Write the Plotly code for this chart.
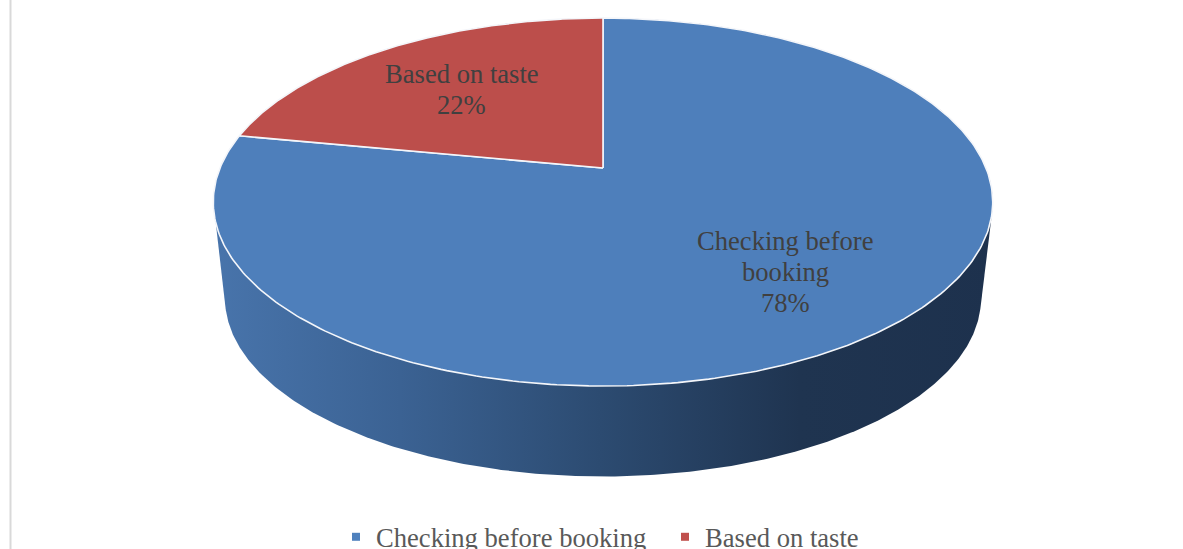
import numpy as np
import plotly.graph_objects as go

categories = ["Checking before booking", "Based on taste"]
label_lines = [["Checking before", "booking"], ["Based on taste"]]
shares = [78, 22]
colors = ["#4e7fbb", "#bc4e4b"]
legend_colors = ["#4f81bd", "#c0504d"]
label_radius = [0.674, 0.63]
label_nudge = [2, 1]

W, H = 1183, 549
CX, CY = 603, 168          # projected pie centre
AX, AY, PERSP = 383, 177.7, 0.185
BOTTOM_SCALE, BOTTOM_CY = 0.97, 265
LINE_PITCH = 31
FONT_SIZE = 26.6


def project(theta, r=1.0, s=1.0, cy=CY):
    # theta is measured counter-clockwise from 12 o'clock, as fractions of a turn
    u, v = -np.sin(2 * np.pi * theta) * r, np.cos(2 * np.pi * theta) * r
    d = 1 + PERSP * v
    return CX + s * AX * u / d, cy - s * AY * v / d


def hull(points):
    pts = sorted(set(points))

    def half(seq):
        out = []
        for p in seq:
            while len(out) > 1 and ((out[-1][0] - out[-2][0]) * (p[1] - out[-2][1])
                                    - (out[-1][1] - out[-2][1]) * (p[0] - out[-2][0])) <= 0:
                out.pop()
            out.append(p)
        return out[:-1]

    return half(pts) + half(pts[::-1])


wall_start, wall_stop = 215, 1000
wall_stops = [(215, "rgb(72,116,171)"), (400, "rgb(59,98,147)"), (600, "rgb(44,75,113)"),
              (800, "rgb(31,52,80)"), (1000, "rgb(29,49,77)")]

fig = go.Figure()

# side wall: outline of the top and bottom rims, with a left-to-right gradient
ts = np.linspace(0, 1, 721)
xt, yt = project(ts)
xb, yb = project(ts, s=BOTTOM_SCALE, cy=BOTTOM_CY)
outline = hull(list(zip(np.r_[xt, xb].tolist(), np.r_[yt, yb].tolist())))
outline.append(outline[0])
fig.add_trace(go.Scatter(
    x=[p[0] for p in outline], y=[p[1] for p in outline], mode="lines",
    fill="toself", line=dict(width=0),
    fillgradient=dict(type="horizontal", start=wall_start, stop=wall_stop,
                      colorscale=[[(p - wall_start) / (wall_stop - wall_start), c] for p, c in wall_stops]),
    hoverinfo="skip", showlegend=False))

# top face, wedges from the shares; "Based on taste" starts at 12 o'clock going CCW
fractions = [s / sum(shares) for s in shares]
spans = [(fractions[1], 1.0), (0.0, fractions[1])]
for i, (start, end) in enumerate(spans):
    ts = np.linspace(start, end, 361)
    x, y = project(ts)
    fig.add_trace(go.Scatter(
        x=np.r_[CX, x, CX], y=np.r_[CY, y, CY], mode="lines", fill="toself",
        fillcolor=colors[i], line=dict(color="#f4f6fa", width=1.6),
        name=categories[i], hoverinfo="skip", showlegend=False))

# data labels, one text per line so the line pitch can be set
for i, (start, end) in enumerate(spans):
    lx, ly = project((start + end) / 2, r=label_radius[i])
    lines = label_lines[i] + [f"{shares[i]}%"]
    for j, line in enumerate(lines):
        fig.add_annotation(
            x=float(lx), y=float(ly), text=line, showarrow=False,
            yshift=-(j - (len(lines) - 1) / 2) * LINE_PITCH - label_nudge[i],
            font=dict(family="Liberation Serif", size=FONT_SIZE, color="#404040"))

# legend entries
for i in range(2):
    fig.add_trace(go.Scatter(
        x=[None], y=[None], mode="markers", name=categories[i],
        marker=dict(symbol="square", size=8, color=legend_colors[i])))

fig.add_shape(type="line", xref="paper", yref="paper", x0=10.5 / W, x1=10.5 / W, y0=0, y1=1,
              line=dict(color="#d9d9d9", width=2))

fig.update_layout(
    width=W, height=H, margin=dict(l=0, r=0, t=0, b=0, autoexpand=False),
    paper_bgcolor="white", plot_bgcolor="white",
    xaxis=dict(range=[0, W], visible=False, fixedrange=True),
    yaxis=dict(range=[H, 0], visible=False, fixedrange=True),
    showlegend=True,
    legend=dict(orientation="h", x=336 / W, xanchor="left", y=1 - 513 / H, yanchor="top",
                entrywidth=284, entrywidthmode="pixels", traceorder="normal",
                font=dict(family="Liberation Serif", size=FONT_SIZE, color="#595959"),
                bgcolor="rgba(0,0,0,0)"),
)

fig.write_html("out.html", post_script="document.body.style.margin='0';document.body.style.overflow='hidden';",
               config={"displayModeBar": False})
